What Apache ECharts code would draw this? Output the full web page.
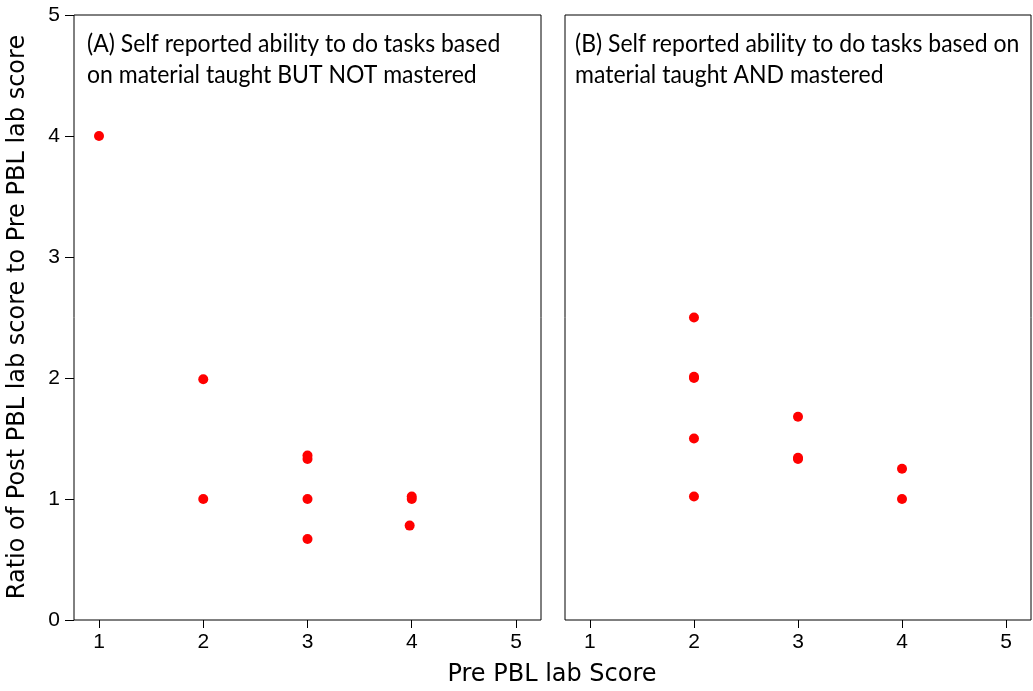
<!DOCTYPE html>
<html><head><meta charset="utf-8">
<script src="https://cdn.jsdelivr.net/npm/echarts@6/dist/echarts.min.js"></script>
<style>html,body{margin:0;padding:0;background:#fff}#c{width:1033px;height:691px}</style>
</head><body><div id="c"></div>
<script>
const xTicks = [1, 2, 3, 4, 5];
const yTicks = [0, 1, 2, 3, 4, 5];
const panelATitle = '(A) Self reported ability to do tasks based\non material taught BUT NOT mastered';
const panelBTitle = '(B) Self reported ability to do tasks based on\nmaterial taught AND mastered';
const xAxisTitle = 'Pre PBL lab Score';
const yAxisTitle = 'Ratio of Post PBL lab score to Pre PBL lab score';
// Panel A: [pre score, ratio]
const panelAPre   = [1, 2, 2, 3, 3, 3, 3, 4, 4, 3.98];
const panelARatio = [4, 1.99, 1.0, 1.33, 1.36, 1.0, 0.67, 1.0, 1.02, 0.78];
// Panel B
const panelBPre   = [2, 2, 2, 2, 2, 3, 3, 3, 4, 4];
const panelBRatio = [2.5, 2.0, 2.01, 1.5, 1.02, 1.68, 1.33, 1.34, 1.25, 1.0];

const toPts = (xs, ys) => xs.map((x, i) => [x, ys[i]]);
const titleFont = 'Lato';
const axisFont = 'Liberation Sans';
const axisTitleFont = 'DejaVu Sans';
const chart = echarts.init(document.getElementById('c'), null, {renderer: 'canvas'});
const xAxisCommon = {
  type: 'value', min: 0.76, max: 5.24,
  axisLine: {show: false}, splitLine: {show: false},
  axisTick: {show: true, length: 8, lineStyle: {color: '#000'}, customValues: xTicks},
  axisLabel: {color: '#000', fontSize: 21, fontFamily: axisFont, margin: 12, customValues: xTicks}
};
const titleStyle = (txt) => ({text: txt, fontFamily: titleFont, fontSize: 23, fill: '#000', lineHeight: 29});
chart.setOption({
  animation: false,
  grid: [
    {left: 74, top: 15, width: 467, height: 605, show: true, borderColor: '#000', borderWidth: 1, backgroundColor: 'transparent'},
    {left: 565, top: 15, width: 466, height: 605, show: true, borderColor: '#000', borderWidth: 1, backgroundColor: 'transparent'}
  ],
  graphic: [
    {type: 'text', x: 87, y: 28, scaleY: 1.08, style: titleStyle(panelATitle)},
    {type: 'text', x: 575, y: 28, scaleY: 1.08, style: titleStyle(panelBTitle)},
    {type: 'text', x: 552, y: 675, style: {text: xAxisTitle, fontFamily: axisTitleFont, fontSize: 24, fill: '#000', align: 'center', verticalAlign: 'middle'}},
    {type: 'text', rotation: Math.PI / 2, x: 18, y: 317, style: {text: yAxisTitle, fontFamily: axisTitleFont, fontSize: 24, fill: '#000', align: 'center', verticalAlign: 'middle'}}
  ],
  xAxis: [
    Object.assign({gridIndex: 0}, xAxisCommon),
    Object.assign({gridIndex: 1}, xAxisCommon)
  ],
  yAxis: [
    {gridIndex: 0, type: 'value', min: 0, max: 5, interval: 1,
     axisLine: {show: false}, splitLine: {show: false},
     axisTick: {show: true, length: 9, lineStyle: {color: '#000'}},
     axisLabel: {color: '#000', fontSize: 21, fontFamily: axisFont, margin: 14}},
    {gridIndex: 1, type: 'value', min: 0, max: 5, interval: 1,
     axisLine: {show: false}, splitLine: {show: false}, axisTick: {show: false}, axisLabel: {show: false}}
  ],
  series: [
    {type: 'scatter', xAxisIndex: 0, yAxisIndex: 0, data: toPts(panelAPre, panelARatio), symbolSize: 10, itemStyle: {color: '#ff0000', opacity: 1}},
    {type: 'scatter', xAxisIndex: 1, yAxisIndex: 1, data: toPts(panelBPre, panelBRatio), symbolSize: 10, itemStyle: {color: '#ff0000', opacity: 1}}
  ]
});
</script></body></html>
